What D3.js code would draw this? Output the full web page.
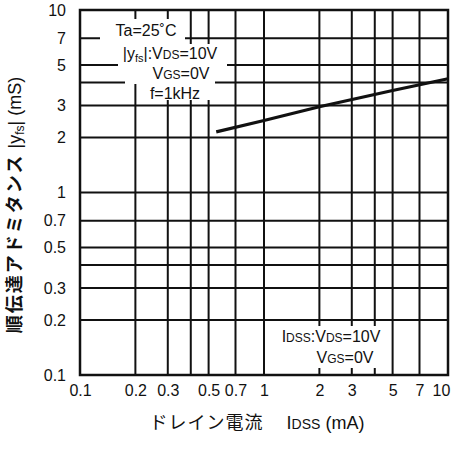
<!DOCTYPE html>
<html>
<head>
  <meta charset="utf-8">
  <title>|yfs| - IDSS</title>
  <script src="https://d3js.org/d3.v7.min.js"></script>
  <style>
    body { margin: 0; background: #fff; }
    svg { display: block; }
    .tick text { font-family: "Liberation Sans", Arial, sans-serif; font-size: 16px; fill: #111; }
    .grid line { stroke: #111; stroke-width: 2px; }
    .note { font-family: "Liberation Sans", Arial, sans-serif; font-size: 16px; fill: #111; }
  </style>
</head>
<body>
  <svg></svg>
  <script>
    // curve: drain current (mA) vs |yfs| (mS)
    const idss = [0.55, 1, 2, 5, 10];
    const yfs  = [2.15, 2.48, 2.95, 3.62, 4.2];

    const xTicks = [0.1, 0.2, 0.3, 0.5, 0.7, 1, 2, 3, 5, 7, 10];
    const yTicks = [0.1, 0.2, 0.3, 0.5, 0.7, 1, 2, 3, 5, 7, 10];
    const gridVals = [0.2, 0.3, 0.4, 0.5, 0.7, 1, 2, 3, 4, 5, 7];

    const width = 455, height = 454;
    const mLeft = 80, mRight = 448, mTop = 10, mBottom = 375;

    const svg = d3.select("svg").attr("width", width).attr("height", height);

    const x = d3.scaleLog().domain([0.1, 10]).range([mLeft, mRight]);
    const y = d3.scaleLog().domain([0.1, 10]).range([mBottom, mTop]);

    // grid
    const grid = svg.append("g").attr("class", "grid");
    grid.selectAll(".gx").data(gridVals).enter().append("line")
      .attr("x1", d => x(d)).attr("x2", d => x(d))
      .attr("y1", mTop).attr("y2", mBottom);
    grid.selectAll(".gy").data(gridVals).enter().append("line")
      .attr("y1", d => y(d)).attr("y2", d => y(d))
      .attr("x1", mLeft).attr("x2", mRight);

    // white patches behind the notes (grid is broken there in the original)
    const masks = [
      [100, 185, 19, 44], [118, 227, 44, 72], [125, 147, 72, 84], [147, 215, 72, 100],
      [272, 390, 326, 346], [310, 380, 346, 368]
    ];
    svg.append("g").selectAll("rect").data(masks).enter().append("rect")
      .attr("x", d => d[0]).attr("y", d => d[2])
      .attr("width", d => d[1] - d[0]).attr("height", d => d[3] - d[2])
      .attr("fill", "#fff");

    // frame
    svg.append("rect")
      .attr("x", mLeft).attr("y", mTop)
      .attr("width", mRight - mLeft).attr("height", mBottom - mTop)
      .attr("fill", "none").attr("stroke", "#111").attr("stroke-width", 2.5);

    // curve
    const line = d3.line().x(d => x(d[0])).y(d => y(d[1]));
    svg.append("path")
      .datum(idss.map((v, i) => [v, yfs[i]]))
      .attr("d", line)
      .attr("fill", "none").attr("stroke", "#111").attr("stroke-width", 3.2);

    // axes (labels only)
    const fmt = d => String(d);
    const xAxis = svg.append("g").attr("transform", `translate(0,${mBottom})`)
      .call(d3.axisBottom(x).tickValues(xTicks).tickFormat(fmt).tickSize(0).tickPadding(7));
    xAxis.select(".domain").remove();
    xAxis.selectAll("text").attr("dy", "0.9em");
    // keep the last label inside the window
    xAxis.selectAll(".tick").filter(d => d === 10).select("text").attr("dx", -7);

    const yAxis = svg.append("g").attr("transform", `translate(${mLeft},0)`)
      .call(d3.axisLeft(y).tickValues(yTicks).tickFormat(fmt).tickSize(0).tickPadding(14));
    yAxis.select(".domain").remove();

    // notes
    function note(tx, ty, anchor, parts) {
      const t = svg.append("text").attr("class", "note")
        .attr("x", tx).attr("y", ty).attr("text-anchor", anchor);
      parts.forEach(p => {
        const s = t.append("tspan").text(p[0]);
        if (p[1] === "small") s.attr("font-size", 12);
        if (p[1] === "sub") s.attr("font-size", 11).attr("baseline-shift", "-25%");
      });
      return t;
    }
    note(146, 36, "middle", [["Ta=25\u02daC"]]);
    note(170, 59, "middle", [["|y"], ["fs", "sub"], ["|:V"], ["DS", "small"], ["=10V"]]);
    note(181, 79, "middle", [["V"], ["GS", "small"], ["=0V"]]);
    note(175, 99, "middle", [["f=1kHz"]]);

    note(331, 342, "middle", [["I"], ["DSS", "small"], [":V"], ["DS", "small"], ["=10V"]]);
    note(345, 363, "middle", [["V"], ["GS", "small"], ["=0V"]]);

    // axis titles
    const xt = svg.append("text")
      .attr("x", 257).attr("y", 429).attr("text-anchor", "middle")
      .style("font-family", "'Liberation Sans', 'Noto Sans CJK JP', sans-serif")
      .style("font-size", "18px").attr("fill", "#111");
    xt.append("tspan").text("ドレイン電流").style("font-family", "'Noto Sans CJK JP'")
      .attr("letter-spacing", 1);
    xt.append("tspan").text("\u3000 I");
    xt.append("tspan").text("DSS").attr("font-size", 14);
    xt.append("tspan").text(" (mA)");

    const yt = svg.append("text")
      .attr("transform", "translate(21,205) rotate(-90)")
      .attr("text-anchor", "middle")
      .style("font-family", "'Liberation Sans', 'Noto Sans CJK JP', sans-serif")
      .style("font-size", "18px").attr("fill", "#111");
    yt.append("tspan").text("順伝達アドミタンス").style("font-family", "'Noto Sans CJK JP'")
      .attr("font-weight", "bold").attr("letter-spacing", 2);
    yt.append("tspan").text("  |y");
    yt.append("tspan").text("fs").attr("font-size", 12).attr("baseline-shift", "-25%");
    yt.append("tspan").text("|  (mS)");
  </script>
</body>
</html>
